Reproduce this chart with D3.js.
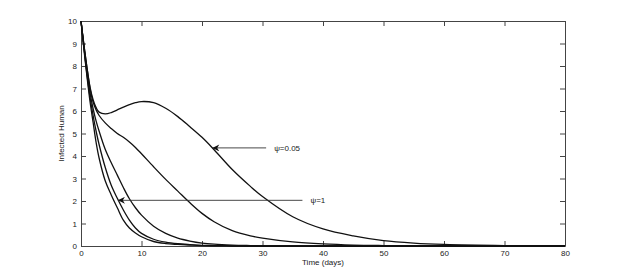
<!DOCTYPE html>
<html lang="en">
<head>
    <meta charset="UTF-8">
    <title>Infected Human</title>
    <script src="https://d3js.org/d3.v7.min.js"></script>
    <style>
        body { margin: 0; background: #fff; }
        text { font-family: "Liberation Sans", Arial, sans-serif; }
    </style>
</head>
<body>
<div id="chart"></div>
<script type="text/javascript">

    // time points (days)
    var days = [0, 0.5, 1, 1.5, 2, 2.5, 3, 4, 5, 6, 7, 8, 9, 10, 12, 14, 16, 18, 20, 22, 25, 28, 30, 35, 40, 45, 50, 55, 60, 70, 80];

    // infected human, one array per psi value
    var psi005 = [10, 8.9, 7.9, 7.05, 6.5, 6.15, 5.95, 5.87, 5.93, 6.05, 6.17, 6.28, 6.37, 6.42, 6.37, 6.12, 5.75, 5.3, 4.83, 4.28, 3.4, 2.65, 2.2, 1.3, 0.76, 0.45, 0.24, 0.13, 0.07, 0.02, 0.005];
    var psiB   = [10, 8.9, 7.9, 7.0, 6.4, 6.05, 5.8, 5.47, 5.22, 5.0, 4.83, 4.62, 4.38, 4.1, 3.52, 2.96, 2.44, 1.92, 1.45, 1.08, 0.68, 0.45, 0.35, 0.18, 0.09, 0.04, 0.02, 0.01, 0.005, 0, 0];
    var psiC   = [10, 8.8, 7.7, 6.8, 6.1, 5.55, 5.1, 4.3, 3.7, 3.15, 2.6, 2.1, 1.7, 1.37, 0.88, 0.56, 0.35, 0.22, 0.13, 0.08, 0.04, 0.02, 0.01, 0, 0, 0, 0, 0, 0, 0, 0];
    var psiD   = [10, 8.8, 7.6, 6.6, 5.8, 5.1, 4.5, 3.5, 2.7, 2.12, 1.6, 1.15, 0.8, 0.56, 0.3, 0.17, 0.1, 0.06, 0.03, 0.02, 0.01, 0, 0, 0, 0, 0, 0, 0, 0, 0, 0];
    var psi1   = [10, 8.7, 7.5, 6.4, 5.5, 4.6, 3.9, 2.9, 2.27, 1.7, 1.15, 0.8, 0.58, 0.41, 0.2, 0.11, 0.07, 0.04, 0.02, 0.01, 0, 0, 0, 0, 0, 0, 0, 0, 0, 0, 0];

    var series = [psi005, psiB, psiC, psiD, psi1];

    var xTicks = [0, 10, 20, 30, 40, 50, 60, 70, 80];
    var yTicks = [0, 1, 2, 3, 4, 5, 6, 7, 8, 9, 10];

    // annotations: label, arrow tip (t, value), tail t
    var notes = [
        { label: "\u03c8=0.05", t: 21.7, v: 4.36, tail: 30.6 },
        { label: "\u03c8=1", t: 6.1, v: 2.03, tail: 36.6 }
    ];

    var width = 624, height = 277;
    var margin = { top: 21, right: 59, bottom: 31, left: 81 };
    var w = width - margin.left - margin.right;
    var h = height - margin.top - margin.bottom;

    var svg = d3.select("#chart")
        .append("svg")
        .attr("width", width)
        .attr("height", height);

    var g = svg.append("g")
        .attr("transform", "translate(" + margin.left + "," + margin.top + ")");

    var x = d3.scaleLinear().domain([0, 80]).range([0, w]);
    var y = d3.scaleLinear().domain([0, 10]).range([h, 0]);

    // axes, matlab style (ticks inside, box round)
    var tick = 5;
    g.append("g")
        .attr("class", "axis")
        .attr("transform", "translate(0," + h + ")")
        .call(d3.axisBottom(x).tickValues(xTicks).tickSizeInner(-tick).tickSizeOuter(0).tickPadding(4));
    g.append("g")
        .attr("class", "axis")
        .call(d3.axisTop(x).tickValues(xTicks).tickSizeInner(-tick).tickSizeOuter(0).tickFormat(""));
    g.append("g")
        .attr("class", "axis")
        .call(d3.axisLeft(y).tickValues(yTicks).tickSizeInner(-tick).tickSizeOuter(0).tickPadding(4));
    g.append("g")
        .attr("class", "axis")
        .attr("transform", "translate(" + w + ",0)")
        .call(d3.axisRight(y).tickValues(yTicks).tickSizeInner(-tick).tickSizeOuter(0).tickFormat(""));

    g.selectAll(".axis path, .axis line").attr("stroke", "#444").attr("stroke-width", 1);
    g.selectAll(".axis text").attr("font-size", 8).attr("fill", "#222");

    // curves
    var line = d3.line()
        .x(function(d, i) { return x(days[i]); })
        .y(function(d) { return y(Math.max(d, 0)); })
        .curve(d3.curveCatmullRom.alpha(0.5));

    g.selectAll(".curve")
        .data(series)
        .enter()
        .append("path")
        .attr("class", "curve")
        .attr("d", line)
        .attr("fill", "none")
        .attr("stroke", "#111")
        .attr("stroke-width", 1.3);

    // arrows
    svg.append("defs").append("marker")
        .attr("id", "head")
        .attr("viewBox", "0 0 10 10")
        .attr("refX", 10)
        .attr("refY", 5)
        .attr("markerWidth", 9)
        .attr("markerHeight", 7)
        .attr("markerUnits", "userSpaceOnUse")
        .attr("orient", "auto")
        .append("path")
        .attr("d", "M0,0 L10,5 L0,10 L3,5 Z")
        .attr("fill", "#111");

    var note = g.selectAll(".note")
        .data(notes)
        .enter()
        .append("g")
        .attr("class", "note");

    note.append("line")
        .attr("x1", function(d) { return x(d.tail); })
        .attr("x2", function(d) { return x(d.t); })
        .attr("y1", function(d) { return y(d.v); })
        .attr("y2", function(d) { return y(d.v); })
        .attr("stroke", "#333")
        .attr("stroke-width", 0.9)
        .attr("marker-end", "url(#head)");

    note.append("text")
        .attr("x", function(d) { return x(d.tail) + 8; })
        .attr("y", function(d) { return y(d.v); })
        .attr("dy", "0.35em")
        .attr("font-size", 8)
        .attr("fill", "#222")
        .text(function(d) { return d.label; });

    // axis titles
    g.append("text")
        .attr("x", w / 2)
        .attr("y", h + 19)
        .attr("text-anchor", "middle")
        .attr("font-size", 8)
        .attr("fill", "#222")
        .text("Time (days)");

    g.append("text")
        .attr("transform", "translate(-17," + (h / 2) + ") rotate(-90)")
        .attr("text-anchor", "middle")
        .attr("font-size", 8)
        .attr("fill", "#222")
        .text("Infected Human");

</script>
</body>
</html>
